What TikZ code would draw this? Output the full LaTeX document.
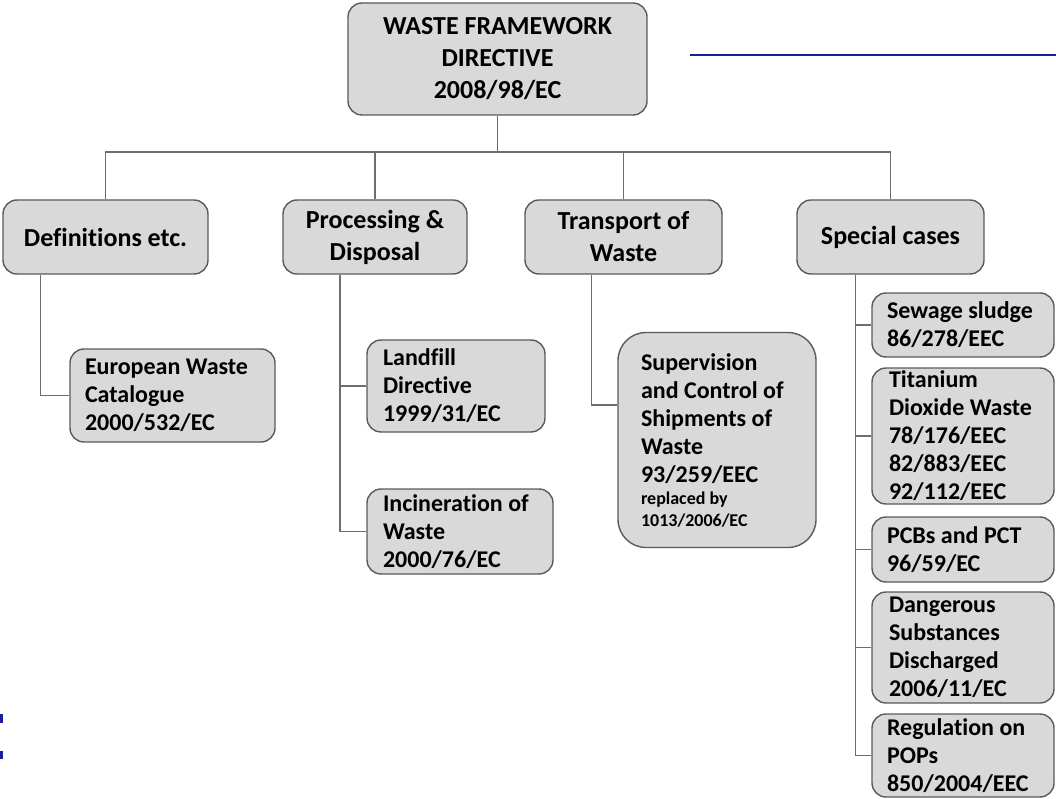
\documentclass[tikz,border=0pt]{standalone}
\usepackage{fontspec}
\setmainfont{Carlito}[Ligatures=NoCommon]
\definecolor{boxfill}{HTML}{D9D9D9}
\definecolor{boxline}{HTML}{5A5A5A}
\definecolor{wire}{HTML}{6E6E6E}
\definecolor{navy}{HTML}{1C1C9C}
\begin{document}
\begin{tikzpicture}[x=1pt,y=-1pt]
\tikzstyle{box} = [rectangle, rounded corners=14pt, draw=boxline, line width=1.4pt, fill=boxfill, inner sep=0pt, font=\bfseries\fontsize{24}{28}\selectfont]
\tikzstyle{head} = [box, align=center, font=\bfseries\fontsize{26}{32}\selectfont]
\tikzstyle{leaf} = [box, align=flush left]
\tikzstyle{edge} = [draw=wire, line width=1.3pt]

\clip (0,0) rectangle (1056,799);

\node[head, minimum width=299pt, minimum height=112pt] (wfd) at (497.5,59) {WASTE FRAMEWORK\\DIRECTIVE\\2008/98/EC};

\node[head, minimum width=205pt, minimum height=74pt] (def) at (105.5,237) {Definitions etc.};
\node[head, minimum width=184pt, minimum height=74pt] (proc) at (375,237) {Processing \&\\Disposal};
\node[head, minimum width=197pt, minimum height=74pt] (trans) at (623.5,237) {Transport of\\Waste};
\node[head, minimum width=187pt, minimum height=74pt] (spec) at (890.5,237) {Special cases};

\node[leaf, minimum width=205pt, minimum height=93pt, text width=175pt] (ewc) at (172.5,395.5) {European Waste\\Catalogue\\2000/532/EC};
\node[leaf, minimum width=178pt, minimum height=92pt, text width=146pt] (landfill) at (456,386) {Landfill\\Directive\\1999/31/EC};
\node[leaf, minimum width=186pt, minimum height=85pt, text width=154pt] (incin) at (460,531.5) {Incineration of\\Waste\\2000/76/EC};
\node[leaf, rounded corners=28pt, minimum width=198pt, minimum height=215pt, text width=152pt] (sup) at (717,440) {Supervision\\and Control of\\Shipments of\\Waste\\93/259/EEC\par{\fontsize{18}{22}\selectfont replaced by\\1013/2006/EC\par}};

\node[leaf, minimum width=182pt, minimum height=64pt, text width=152pt] (sewage) at (963,325) {Sewage sludge\\86/278/EEC};
\node[leaf, minimum width=182pt, minimum height=136pt, text width=148pt] (titan) at (963,436) {Titanium\\Dioxide Waste\\78/176/EEC\\82/883/EEC\\92/112/EEC};
\node[leaf, minimum width=182pt, minimum height=65pt, text width=152pt] (pcb) at (963,549.5) {PCBs and PCT\\96/59/EC};
\node[leaf, minimum width=182pt, minimum height=111pt, text width=148pt] (dang) at (963,647.5) {Dangerous\\Substances\\Discharged\\2006/11/EC};
\node[leaf, minimum width=182pt, minimum height=83pt, text width=152pt] (pops) at (963,755.5) {Regulation on\\POPs\\850/2004/EEC};

\coordinate (bus) at (497.5,152);
\draw[edge] (wfd.south) -- (bus);
\draw[edge] (bus) -| (def.north);
\draw[edge] (bus) -| (proc.north);
\draw[edge] (bus) -| (trans.north);
\draw[edge] (bus) -| (spec.north);

\draw[edge] ([xshift=-65pt]def.south) |- (ewc.west);
\draw[edge] ([xshift=-35pt]proc.south) |- (landfill.west);
\draw[edge] ([xshift=-35pt]proc.south) |- (incin.west);
\draw[edge] ([xshift=-32pt]trans.south) |- ([yshift=35pt]sup.west);
\draw[edge] ([xshift=-35pt]spec.south) |- (sewage.west);
\draw[edge] ([xshift=-35pt]spec.south) |- (titan.west);
\draw[edge] ([xshift=-35pt]spec.south) |- (pcb.west);
\draw[edge] ([xshift=-35pt]spec.south) |- (dang.west);
\draw[edge] ([xshift=-35pt]spec.south) |- (pops.west);

\draw[navy, line width=2.5pt] (690,55) -- (1056,55);
\fill[navy] (0,714) rectangle (2.5,723);
\fill[navy] (0,751) rectangle (2.5,759);
\end{tikzpicture}
\end{document}
